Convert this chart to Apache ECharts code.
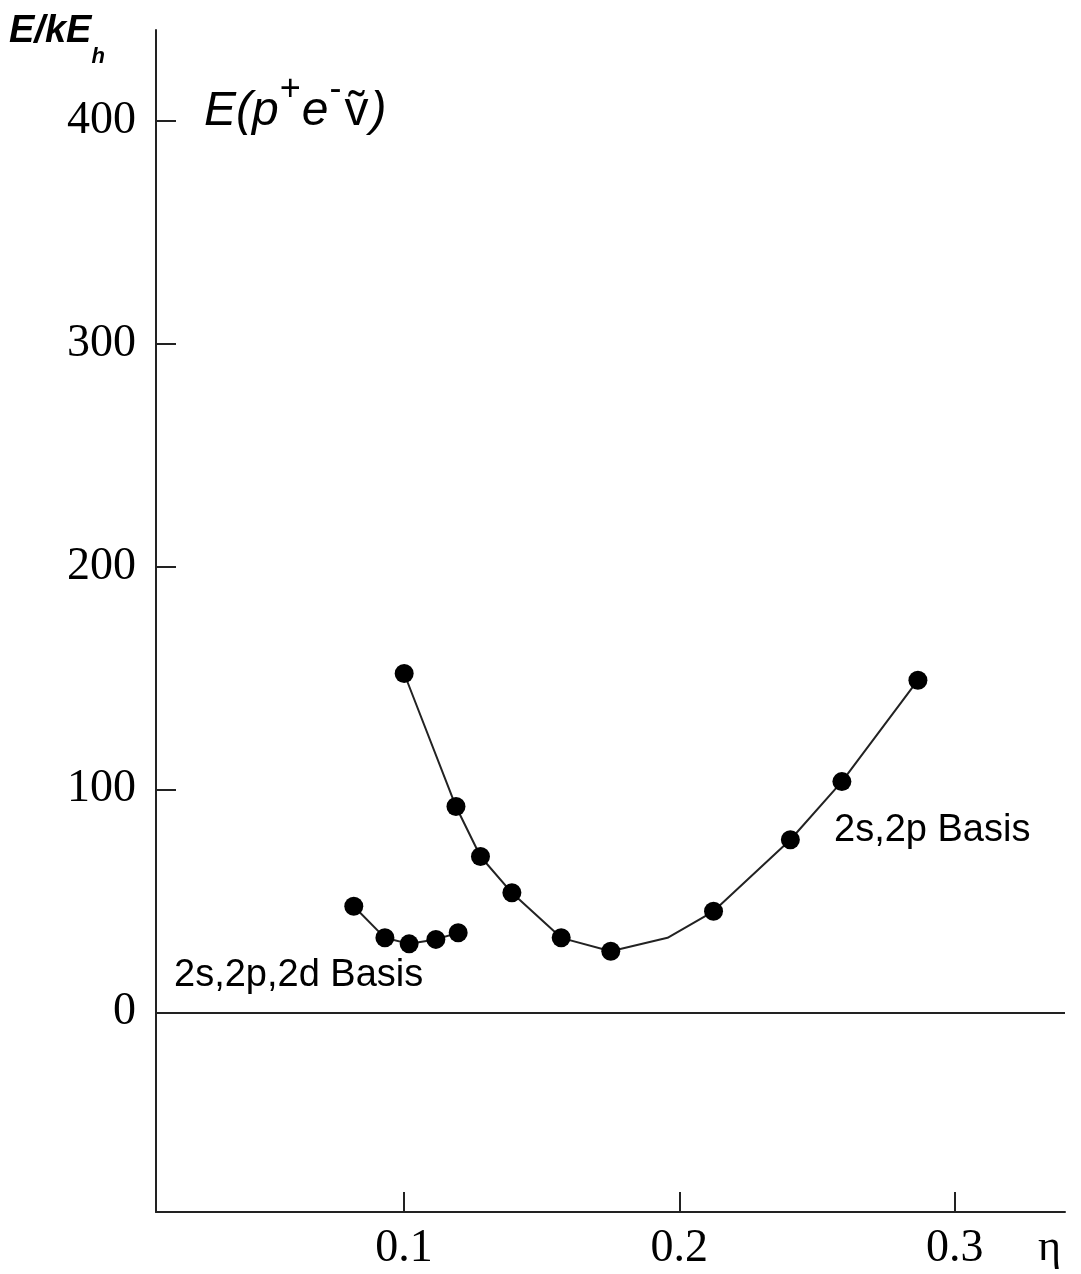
<!DOCTYPE html>
<html>
<head>
<meta charset="utf-8">
<script src="https://cdn.jsdelivr.net/npm/echarts@6/dist/echarts.min.js"></script>
<style>
html,body{margin:0;padding:0;background:#fff;}
#chart{width:1081px;height:1274px;}
</style>
</head>
<body>
<div id="chart"></div>
<script>
// eta values and energies (kE_h)
var eta2p  = [0.1001, 0.1189, 0.1278, 0.1392, 0.1571, 0.1751, 0.1957, 0.2124, 0.2403, 0.2590, 0.2866];
var e2p    = [152.0,  92.3,   69.9,   53.6,   33.4,   27.4,   33.4,   45.3,   77.4,   103.5,  149.0];
var dot2p  = [true,   true,   true,   true,   true,   true,   false,  true,   true,   true,   true];
var eta2d  = [0.0818, 0.0931, 0.1019, 0.1116, 0.1197];
var e2d    = [47.6,   33.4,   30.7,   32.7,   35.7];
var xTicks = [0.1, 0.2, 0.3];
var yTicks = [0, 100, 200, 300, 400];

var chart = echarts.init(document.getElementById('chart'));

function pts(xs, ys, dots){
    var out = [];
    for (var i = 0; i < xs.length; i++) {
        var p = {value: [xs[i], ys[i]]};
        if (dots && !dots[i]) p.symbol = 'none';
        out.push(p);
    }
    return out;
}

var ink = '#111';
var serif = '"Liberation Serif", "DejaVu Serif", serif';
var sans = '"Liberation Sans", Arial, sans-serif';

chart.setOption({
    animation: false,
    backgroundColor: '#fff',
    grid: {left: 156, right: 16, top: 30, bottom: 62},
    xAxis: {
        type: 'value', min: 0.01, max: 0.34,
        axisLine: {onZero: false, lineStyle: {color: '#222', width: 2}},
        axisTick: {inside: true, length: 20, customValues: xTicks, lineStyle: {color: '#222', width: 2}},
        axisLabel: {customValues: xTicks, margin: 14, color: '#000', fontFamily: serif, fontSize: 46,
            formatter: function(v){ return v.toFixed(1); }},
        splitLine: {show: false}
    },
    yAxis: {
        type: 'value', min: -89.6, max: 440.7,
        axisLine: {show: true, onZero: false, lineStyle: {color: '#222', width: 2}},
        axisTick: {show: true, inside: true, length: 20, customValues: yTicks, lineStyle: {color: '#222', width: 2}},
        axisLabel: {customValues: yTicks, margin: 20, color: '#000', fontFamily: serif, fontSize: 46},
        splitLine: {show: false}
    },
    series: [
        {
            type: 'line', data: pts(eta2p, e2p, dot2p),
            symbol: 'circle', symbolSize: 19,
            itemStyle: {color: '#000'},
            lineStyle: {color: '#222', width: 2},
            markLine: {
                silent: true, symbol: 'none', label: {show: false},
                lineStyle: {color: '#222', width: 2, type: 'solid'},
                data: [{yAxis: 0}]
            }
        },
        {
            type: 'line', data: pts(eta2d, e2d),
            symbol: 'circle', symbolSize: 19,
            itemStyle: {color: '#000'},
            lineStyle: {color: '#222', width: 2}
        }
    ],
    graphic: [
        {type: 'text', left: 9, top: 13, style: {
            text: '{a|E/kE}{b|h}', fill: '#000',
            rich: {
                a: {fontFamily: sans, fontWeight: 'bold', fontStyle: 'italic', fontSize: 38, padding: [0, 0, 17, 0], verticalAlign: 'bottom'},
                b: {fontFamily: sans, fontWeight: 'bold', fontStyle: 'italic', fontSize: 22, verticalAlign: 'bottom'}
            }}},
        {type: 'text', left: 204, top: 72, style: {
            text: '{a|E(p}{s|+}{a|e}{s|-}{v|ṽ}{a|)}', fill: '#000',
            rich: {
                a: {fontFamily: sans, fontStyle: 'italic', fontSize: 48, verticalAlign: 'bottom'},
                v: {fontFamily: sans, fontSize: 48, padding: [0, 2, 0, 2], verticalAlign: 'bottom'},
                s: {fontFamily: sans, fontSize: 36, padding: [0, 1, 28, 1], verticalAlign: 'bottom'}
            }}},
        {type: 'text', left: 1038, top: 1226, style: {
            text: 'η', fill: '#000', font: '44px ' + serif}},
        {type: 'text', left: 834, top: 812, style: {
            text: '2s,2p Basis', fill: '#000', font: '38px ' + sans}},
        {type: 'text', left: 174, top: 957, style: {
            text: '2s,2p,2d Basis', fill: '#000', font: '38px ' + sans}}
    ]
});
</script>
</body>
</html>
